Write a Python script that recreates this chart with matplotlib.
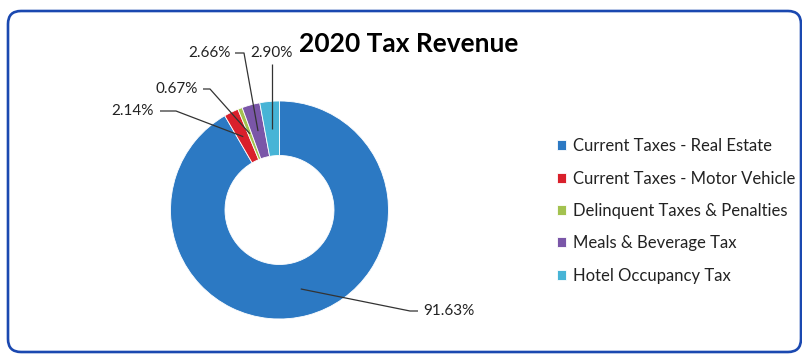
import matplotlib.pyplot as plt
import numpy as np
from matplotlib.patches import FancyBboxPatch

# Revenue shares in percent
categories = ['Current Taxes - Real Estate', 'Current Taxes - Motor Vehicle',
              'Delinquent Taxes & Penalties', 'Meals & Beverage Tax',
              'Hotel Occupancy Tax']
shares = [91.63, 2.14, 0.67, 2.66, 2.90]
colors = ['#2c79c3', '#d9202b', '#a3c24f', '#7a56a8', '#47b4d6']

plt.rcParams['font.family'] = ['Lato', 'DejaVu Sans']

W, H = 802, 354
fig = plt.figure(figsize=(W / 100, H / 100), dpi=100)
# one axes spanning the figure, data units are pixels (origin bottom-left)
ax = fig.add_axes([0, 0, 1, 1])

cx, cy, R = 279.5, H - 210, 109
wedges, _ = ax.pie(shares, colors=colors, startangle=90, counterclock=False,
                   center=(cx, cy), radius=R,
                   wedgeprops=dict(width=R * 0.5, edgecolor='white', linewidth=0.6))
ax.set_xlim(0, W)
ax.set_ylim(0, H)
ax.set_aspect('equal')
ax.axis('off')

# rounded frame around the chart
frame = FancyBboxPatch((8, 2), 793, H - 13, boxstyle='round,pad=0,rounding_size=13',
                       fill=False, edgecolor='#1a48b0', linewidth=1.9, clip_on=False)
ax.add_patch(frame)

ax.text(409, H - 44, '2020 Tax Revenue', ha='center', va='center',
        fontsize=19, fontweight='bold', color='black')

# label placement: text anchor (x, y, ha), leader start, leader elbow  (pixels from top)
label_layout = [
    ((423, 311, 'left'), (418, 311), (410, 311)),
    ((154, 111, 'right'), (160, 111), (176, 111)),
    ((198, 89, 'right'), (203, 89), (210, 89)),
    ((231, 53, 'right'), (235, 53), (244, 53)),
    ((271, 53, 'center'), None, None),
]

for w, val, (txt, start, elbow) in zip(wedges, shares, label_layout):
    mid = np.deg2rad((w.theta1 + w.theta2) / 2)
    ax_pt = (cx + 0.75 * R * np.cos(mid), cy + 0.75 * R * np.sin(mid))
    tx, ty, ha = txt
    ax.text(tx, H - ty, f'{val:.2f}%', ha=ha, va='center', fontsize=11, color='#222222')
    if start is None:
        # straight drop from below the label
        xs = [ax_pt[0], ax_pt[0]]
        ys = [H - ty - 11, ax_pt[1]]
    else:
        xs = [start[0], elbow[0], ax_pt[0]]
        ys = [H - start[1], H - elbow[1], ax_pt[1]]
    ax.plot(xs, ys, color='#333333', linewidth=0.9, solid_capstyle='butt')

leg = ax.legend(wedges, categories, loc='center left', bbox_to_anchor=(557, H - 211),
                bbox_transform=ax.transData, frameon=False, fontsize=12,
                handlelength=0.55, handleheight=0.55, handletextpad=0.4,
                labelspacing=0.98, borderpad=0, borderaxespad=0)
for t in leg.get_texts():
    t.set_color('#222222')

fig.savefig('out.png', dpi=100)
